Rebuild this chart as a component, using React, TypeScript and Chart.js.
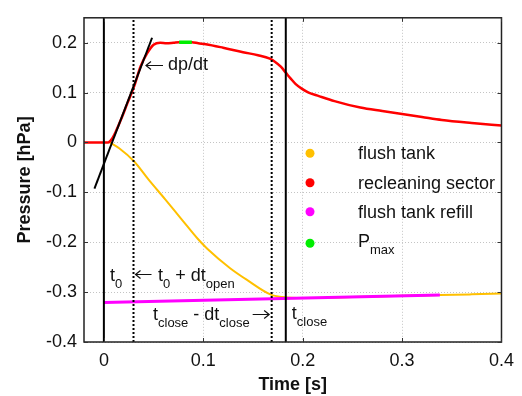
import React, { useEffect, useRef } from "react";
import { Chart, registerables } from "chart.js";

Chart.register(...registerables);

// ---- data ----
const redTime = [-0.02, 0.0042, 0.008, 0.012, 0.0174, 0.0239, 0.0305, 0.037, 0.0436, 0.050, 0.0567, 0.063, 0.070, 0.0757, 0.082, 0.0885, 0.095, 0.1026, 0.120, 0.140, 0.155, 0.167, 0.172, 0.178, 0.183, 0.188, 0.193, 0.199, 0.206, 0.215, 0.232, 0.258, 0.280, 0.300, 0.320, 0.340, 0.370, 0.400];
const redPressure = [0, 0, 0.007, 0.022, 0.047, 0.080, 0.113, 0.153, 0.179, 0.196, 0.200, 0.199, 0.200, 0.201, 0.201, 0.201, 0.199, 0.197, 0.190, 0.181, 0.175, 0.168, 0.162, 0.152, 0.140, 0.128, 0.117, 0.108, 0.100, 0.094, 0.083, 0.070, 0.063, 0.057, 0.051, 0.045, 0.039, 0.034];

const yellowTime = [0.006, 0.0157, 0.0305, 0.045, 0.0617, 0.078, 0.0944, 0.104, 0.127, 0.1436, 0.168, 0.180, 0.200, 0.250, 0.300, 0.338, 0.370, 0.400];
const yellowPressure = [0, -0.012, -0.038, -0.0745, -0.114, -0.1535, -0.193, -0.213, -0.252, -0.275, -0.305, -0.310, -0.312, -0.310, -0.3075, -0.306, -0.3045, -0.303];

const magentaTime = [0, 0.338];
const magentaPressure = [-0.321, -0.306];

const greenTime = [0.0757, 0.0885];
const greenPressure = [0.201, 0.201];

const tangentTime = [-0.0095, 0.0485];
const tangentPressure = [-0.0925, 0.21];

const solidLineTimes = [0, 0.183];
const dottedLineTimes = [0.0298, 0.1688];

const xTickValues = [0, 0.1, 0.2, 0.3, 0.4];
const xTickLabels = ["0", "0.1", "0.2", "0.3", "0.4"];
const yTickValues = [-0.4, -0.3, -0.2, -0.1, 0, 0.1, 0.2];
const yTickLabels = ["-0.4", "-0.3", "-0.2", "-0.1", "0", "0.1", "0.2"];

const legendLabels = ["flush tank", "recleaning sector", "flush tank refill", "P"];
const legendColors = ["#ffc000", "#ff0000", "#ff00ff", "#00ee00"];

const FONT = "'Liberation Sans', Arial, sans-serif";

const zip = (xs: number[], ys: number[]) => xs.map((x, i) => ({ x, y: ys[i] }));

function drawParts(ctx: CanvasRenderingContext2D, x: number, baseline: number, parts: [string, boolean][]) {
  let cx = x;
  for (const [text, sub] of parts) {
    ctx.font = sub ? `13px ${FONT}` : `18px ${FONT}`;
    ctx.fillText(text, cx, sub ? baseline + 7 : baseline);
    cx += ctx.measureText(text).width;
  }
  return cx - x;
}

function arrow(ctx: CanvasRenderingContext2D, x1: number, x2: number, y: number) {
  // arrow pointing from x1 towards x2
  const dir = x2 > x1 ? 1 : -1;
  ctx.save();
  ctx.strokeStyle = "#111";
  ctx.lineWidth = 1.2;
  ctx.beginPath();
  ctx.moveTo(x1, y);
  ctx.lineTo(x2, y);
  ctx.moveTo(x2 - dir * 5, y - 4);
  ctx.lineTo(x2, y);
  ctx.lineTo(x2 - dir * 5, y + 4);
  ctx.stroke();
  ctx.restore();
}

const overlay = {
  id: "overlay",
  afterDraw(chart: any) {
    const { ctx, chartArea, scales } = chart;
    const { left, right, top, bottom } = chartArea;
    const xs = scales.x;
    const ys = scales.y;
    ctx.save();
    // frame
    ctx.strokeStyle = "#222";
    ctx.lineWidth = 1.5;
    ctx.strokeRect(left, top, right - left, bottom - top);
    // inward ticks
    ctx.lineWidth = 1;
    ctx.strokeStyle = "#333";
    ctx.beginPath();
    xTickValues.forEach((v) => {
      const px = Math.round(xs.getPixelForValue(v)) + 0.5;
      ctx.moveTo(px, bottom); ctx.lineTo(px, bottom - 4);
      ctx.moveTo(px, top); ctx.lineTo(px, top + 4);
    });
    yTickValues.forEach((v) => {
      const py = Math.round(ys.getPixelForValue(v)) + 0.5;
      ctx.moveTo(left, py); ctx.lineTo(left + 4, py);
      ctx.moveTo(right, py); ctx.lineTo(right - 4, py);
    });
    ctx.stroke();

    // legend
    ctx.textBaseline = "alphabetic";
    ctx.textAlign = "left";
    const dotX = 310;
    const textX = 358;
    const dotYs = [153.3, 182.7, 211.7, 243.3];
    const baseYs = [159.3, 188.6, 217.9, 247.2];
    legendLabels.forEach((lab, i) => {
      ctx.fillStyle = legendColors[i];
      ctx.beginPath();
      ctx.arc(dotX, dotYs[i], 4.5, 0, Math.PI * 2);
      ctx.fill();
      ctx.fillStyle = "#111";
      if (i === 3) drawParts(ctx, textX, baseYs[i], [[lab, false], ["max", true]]);
      else drawParts(ctx, textX, baseYs[i], [[lab, false]]);
    });

    // annotations
    ctx.fillStyle = "#111";
    const x0 = xs.getPixelForValue(solidLineTimes[0]);
    const xOpen = xs.getPixelForValue(dottedLineTimes[0]);
    const xCloseD = xs.getPixelForValue(dottedLineTimes[1]);
    const xClose = xs.getPixelForValue(solidLineTimes[1]);
    // dp/dt
    arrow(ctx, 163, 146, 65.5);
    drawParts(ctx, 168, 70, [["dp/dt", false]]);
    // t0
    drawParts(ctx, x0 + 6, 281, [["t", false], ["0", true]]);
    // t0 + dt_open
    arrow(ctx, xOpen + 18, xOpen + 2, 274.5);
    drawParts(ctx, xOpen + 24.5, 281, [["t", false], ["0", true], [" + dt", false], ["open", true]]);
    // t_close - dt_close
    arrow(ctx, xCloseD - 19, xCloseD - 2.5, 314.5);
    drawParts(ctx, 153, 320, [["t", false], ["close", true], [" - dt", false], ["close", true]]);
    // t_close
    drawParts(ctx, xClose + 6, 319, [["t", false], ["close", true]]);
    ctx.restore();
  },
};

export default function App() {
  const ref = useRef<HTMLCanvasElement | null>(null);
  useEffect(() => {
    if (!ref.current) return;
    const vertical = (t: number, dotted: boolean) => ({
      data: [{ x: t, y: -0.4 }, { x: t, y: 0.25 }],
      borderColor: "#000",
      borderWidth: 2,
      borderDash: dotted ? [2, 2] : [],
      pointRadius: 0,
      fill: false,
    });
    const chart = new Chart(ref.current, {
      type: "line",
      data: {
        datasets: [
          ...solidLineTimes.map((t) => vertical(t, false)),
          ...dottedLineTimes.map((t) => vertical(t, true)),
          { data: zip(tangentTime, tangentPressure), borderColor: "#000", borderWidth: 2, pointRadius: 0 },
          { data: zip(greenTime, greenPressure), borderColor: "#00ee00", borderWidth: 3.5, pointRadius: 0 },
          { data: zip(magentaTime, magentaPressure), borderColor: "#ff00ff", borderWidth: 3, pointRadius: 0 },
          { data: zip(redTime, redPressure), borderColor: "#ff0000", borderWidth: 2.5, pointRadius: 0, cubicInterpolationMode: "monotone" },
          { data: zip(yellowTime, yellowPressure), borderColor: "#ffc000", borderWidth: 2, pointRadius: 0, cubicInterpolationMode: "monotone" },
        ] as any,
      },
      options: {
        responsive: false,
        animation: false,
        parsing: false as any,
        layout: { padding: { top: 13, right: 11, left: 0, bottom: 0 } },
        plugins: { legend: { display: false }, tooltip: { enabled: false } },
        scales: {
          x: {
            type: "linear",
            min: -0.02,
            max: 0.4,
            afterFit: (s: any) => { s.height = 54; },
            afterBuildTicks: (s: any) => { s.ticks = xTickValues.map((v) => ({ value: v })); },
            ticks: {
              padding: 8,
              color: "#111",
              font: { family: FONT, size: 18 },
              callback: (v: any) => { const i = xTickValues.findIndex((t) => Math.abs(t - v) < 1e-9); return i >= 0 ? xTickLabels[i] : ""; },
            },
            grid: { color: "#c4c4c4", lineWidth: 1, drawTicks: false },
            border: { display: false, dash: [1, 2] },
            title: { display: true, text: "Time [s]", color: "#111", font: { family: FONT, size: 18, weight: "bold" }, padding: { top: 0, bottom: 0 } },
          },
          y: {
            type: "linear",
            min: -0.4,
            max: 0.25,
            afterFit: (s: any) => { s.width = 84; },
            afterBuildTicks: (s: any) => { s.ticks = yTickValues.map((v) => ({ value: v })); },
            ticks: {
              padding: 7,
              color: "#111",
              font: { family: FONT, size: 18 },
              callback: (v: any) => { const i = yTickValues.findIndex((t) => Math.abs(t - v) < 1e-9); return i >= 0 ? yTickLabels[i] : ""; },
            },
            grid: { color: "#c4c4c4", lineWidth: 1, drawTicks: false },
            border: { display: false, dash: [1, 2] },
            title: { display: true, text: "Pressure [hPa]", color: "#111", font: { family: FONT, size: 18, weight: "bold" }, padding: { top: 14, bottom: 0 } },
          },
        },
      },
      plugins: [overlay],
    });
    return () => chart.destroy();
  }, []);
  return (
    <div style={{ position: "absolute", left: 0, top: 0, width: 522, height: 396, background: "#fff" }}>
      <canvas ref={ref} width={522} height={396} style={{ display: "block" }} />
    </div>
  );
}
